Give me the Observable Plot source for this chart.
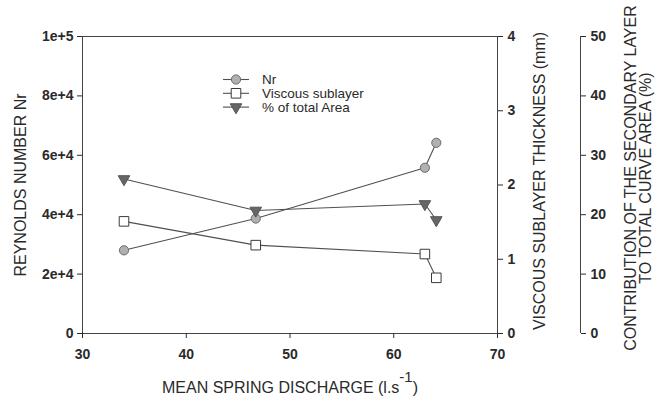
<!DOCTYPE html>
<html><head><meta charset="utf-8">
<script src="https://cdn.jsdelivr.net/npm/d3@7"></script>
<script src="https://cdn.jsdelivr.net/npm/@observablehq/plot@0.6"></script>
<style>
body{margin:0;background:#fff;}
#chart{position:relative;width:667px;height:401px;overflow:hidden;background:#fff;}
#chart svg{position:absolute;left:0;top:0;}
</style></head><body><div id="chart"></div>
<script>
// ---- data ----
const discharge = [34, 46.7, 63, 64.1];
const reynolds = [28000, 38700, 55800, 64200];
const viscous = [1.51, 1.19, 1.07, 0.75];
const areaPct = [26.0, 20.7, 21.8, 19.1];
const xTicks = [30, 40, 50, 60, 70];
const nrTicks = [0, 20000, 40000, 60000, 80000, 100000];
const nrTickLabels = ["0", "2e+4", "4e+4", "6e+4", "8e+4", "1e+5"];
const viscTicks = [0, 1, 2, 3, 4];
const areaTicks = [0, 10, 20, 30, 40, 50];
const seriesNames = ["Nr", "Viscous sublayer", "% of total Area"];
const titles = {
  x: "MEAN SPRING DISCHARGE (l.s",
  xSup: "-1",
  y1: "REYNOLDS NUMBER Nr",
  y2: "VISCOUS SUBLAYER THICKNESS (mm)",
  y3a: "CONTRIBUTION OF THE SECONDARY LAYER",
  y3b: "TO TOTAL CURVE AREA (%)"
};

const rows = discharge.map((x, i) => ({x, nr: reynolds[i], v: viscous[i], a: areaPct[i]}));

const W = 667, H = 401, ML = 82, MR = 170, MT = 36, MB = 68;
const font = "'Liberation Sans', Arial, sans-serif";
const lineColor = "#505050";
const style = {fontFamily: font, fontSize: "14px", color: "#2a2a2a", background: "transparent", overflow: "visible"};
const base = {width: W, height: H, marginLeft: ML, marginRight: MR, marginTop: MT, marginBottom: MB, style};
const tickText = {fontWeight: "bold"};
const titleOpts = {text: d => d, rotate: -90, textAnchor: "middle", lineAnchor: "middle", fontSize: 16, fill: "#2a2a2a"};
const chart = document.getElementById("chart");

// Plot 1: frame, x axis, left axis, Nr series, titles
const p1 = Plot.plot({
  ...base,
  x: {domain: [30, 70]},
  y: {domain: [0, 100000]},
  marks: [
    Plot.frame({stroke: "#444"}),
    Plot.axisX({ticks: xTicks, tickSize: 5, tickPadding: 11, label: null, ...tickText}),
    Plot.axisY({ticks: nrTicks, tickFormat: d => nrTickLabels[nrTicks.indexOf(d)], tickSize: 5, tickPadding: 4, label: null, ...tickText}),
    Plot.line(rows, {x: "x", y: "nr", stroke: lineColor, strokeWidth: 1.1}),
    Plot.dot(rows, {x: "x", y: "nr", r: 4.6, fill: "#b0b0b0", stroke: "#6a6a6a", strokeWidth: 1}),
    Plot.text([titles.y1], {...titleOpts, frameAnchor: "left", dx: -62, dy: 0}),
    Plot.text([titles.y2], {...titleOpts, frameAnchor: "right", dx: 42, dy: -4}),
    Plot.text([titles.y3a], {...titleOpts, frameAnchor: "right", dx: 133, dy: -7}),
    Plot.text([titles.y3b], {...titleOpts, frameAnchor: "right", dx: 148, dy: -7}),
    Plot.text([titles.x], {text: d => d, frameAnchor: "bottom", textAnchor: "middle", lineAnchor: "middle", dy: 54, fontSize: 16, fill: "#2a2a2a"})
  ]
});
chart.appendChild(p1);
// superscript on the x title
d3.select(p1).selectAll("text").filter(function () { return this.textContent === titles.x; })
  .each(function () {
    const t = d3.select(this);
    t.append("tspan").attr("dy", "-0.72em").attr("font-size", 15).text(titles.xSup);
    t.append("tspan").attr("dy", "0.72em").text(")");
  });

// Plot 2: viscous sublayer, right axis
const p2 = Plot.plot({
  ...base,
  x: {domain: [30, 70], axis: null},
  y: {domain: [0, 4], axis: null},
  marks: [
    Plot.axisY({anchor: "right", ticks: viscTicks, tickFormat: d => String(d), tickSize: 5, tickPadding: 5, label: null, ...tickText}),
    Plot.line(rows, {x: "x", y: "v", stroke: lineColor, strokeWidth: 1.1}),
    Plot.dot(rows, {x: "x", y: "v", symbol: "square", r: 5.4, fill: "white", stroke: "#3a3a3a", strokeWidth: 1})
  ]
});
chart.appendChild(p2);

// Plot 3: % of total area series
const p3 = Plot.plot({
  ...base,
  x: {domain: [30, 70], axis: null},
  y: {domain: [0, 50], axis: null},
  marks: [
    Plot.line(rows, {x: "x", y: "a", stroke: lineColor, strokeWidth: 1.1}),
    Plot.dot(rows, {x: "x", y: "a", symbol: "triangle", rotate: 180, r: 4.3, fill: "#666", stroke: "#555", strokeWidth: 1})
  ]
});
chart.appendChild(p3);

// Plot 4: third (offset) y axis for % area
const p4 = Plot.plot({
  width: W, height: H, marginLeft: 579, marginRight: 87, marginTop: MT, marginBottom: MB, style,
  x: {domain: [0, 1], axis: null},
  y: {domain: [0, 50], axis: null},
  marks: [
    Plot.ruleX([1], {y1: 0, y2: 50, stroke: "#444"}),
    Plot.axisY({anchor: "right", ticks: areaTicks, tickFormat: d => String(d), tickSize: 5, tickPadding: 5, label: null, ...tickText})
  ]
});
chart.appendChild(p4);

// Legend
const leg = d3.select(chart).append("svg").attr("width", W).attr("height", H)
  .style("font-family", font).style("font-size", "13.5px");
const legStyles = [
  {sym: d3.symbolCircle, r: 4.6, fill: "#b0b0b0", stroke: "#6a6a6a", rot: 0},
  {sym: d3.symbolSquare, r: 5.4, fill: "white", stroke: "#3a3a3a", rot: 0},
  {sym: d3.symbolTriangle, r: 4.3, fill: "#666", stroke: "#555", rot: 180}
];
seriesNames.forEach((name, i) => {
  const y = 79.5 + i * 13.8;
  const g = leg.append("g").attr("transform", `translate(0,${y})`);
  g.append("line").attr("x1", 223).attr("x2", 249).attr("stroke", lineColor).attr("stroke-width", 1.1);
  const s = legStyles[i];
  g.append("path").attr("d", d3.symbol(s.sym, Math.PI * s.r * s.r)())
    .attr("transform", `translate(236,0) rotate(${s.rot})`)
    .attr("fill", s.fill).attr("stroke", s.stroke);
  g.append("text").attr("x", 262).attr("dy", "0.35em").attr("fill", "#2a2a2a").text(name);
});
</script></body></html>
